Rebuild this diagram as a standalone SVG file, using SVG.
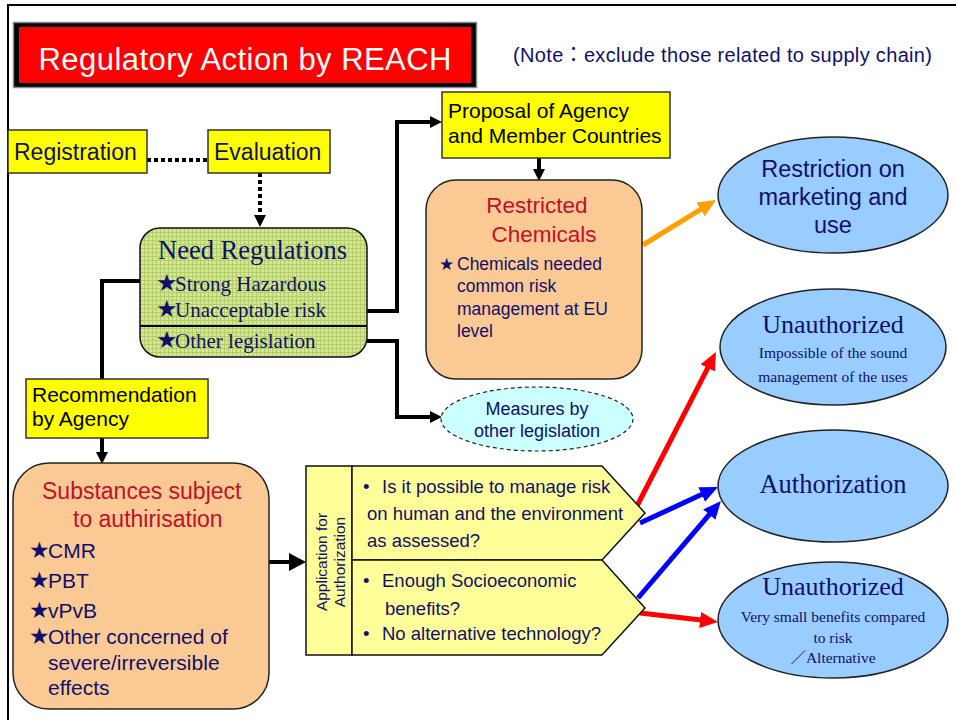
<svg xmlns="http://www.w3.org/2000/svg" width="956" height="720" viewBox="0 0 956 720">
<style>
.sans{font-family:"Liberation Sans","DejaVu Sans","Noto Sans CJK JP",sans-serif}
.serif{font-family:"Liberation Serif","DejaVu Serif","Noto Sans CJK JP",serif}
.navy{fill:#10106a}
.dark{fill:#000}
.redt{fill:#c0102a}
.ybox{fill:#ffff00;stroke:#333;stroke-width:1.5}
.obox{fill:#fbc993;stroke:#222;stroke-width:1.5}
.bell{fill:#99ccff;stroke:#222;stroke-width:1.5}
.pent{fill:#ffff99;stroke:#111;stroke-width:1.5}
.conn{fill:none;stroke:#000;stroke-width:4}
.dot{fill:none;stroke:#000;stroke-width:4;stroke-dasharray:4 3}
.star{font-family:"DejaVu Sans","Noto Sans CJK JP",sans-serif}
</style>
<defs>
<pattern id="grid" width="4" height="4" patternUnits="userSpaceOnUse">
<rect width="4" height="4" fill="#d2e890"/>
<path d="M0,0.5H4M0.5,0V4" stroke="#b4cc6c" stroke-width="1"/>
</pattern>
<marker id="ah" markerUnits="userSpaceOnUse" markerWidth="12" markerHeight="12" viewBox="0 0 12 12" refX="1" refY="6" orient="auto"><path d="M0,0L12,6L0,12z" fill="#000"/></marker>
<marker id="ahb" markerUnits="userSpaceOnUse" markerWidth="17" markerHeight="18" viewBox="0 0 17 18" refX="1" refY="9" orient="auto"><path d="M0,0L17,9L0,18z" fill="#000"/></marker>
<marker id="ahr" markerUnits="userSpaceOnUse" markerWidth="18" markerHeight="16" viewBox="0 0 18 16" refX="1" refY="8" orient="auto"><path d="M0,0L18,8L0,16z" fill="#ff0000"/></marker>
<marker id="ahbl" markerUnits="userSpaceOnUse" markerWidth="18" markerHeight="16" viewBox="0 0 18 16" refX="1" refY="8" orient="auto"><path d="M0,0L18,8L0,16z" fill="#0000ff"/></marker>
<marker id="aho" markerUnits="userSpaceOnUse" markerWidth="18" markerHeight="16" viewBox="0 0 18 16" refX="1" refY="8" orient="auto"><path d="M0,0L18,8L0,16z" fill="#ffa000"/></marker>
</defs>
<rect width="956" height="720" fill="#fff"/>
<path d="M7,5H956M8,5V720" stroke="#000" stroke-width="2" fill="none"/>

<g id="title">
<rect x="13.5" y="22.5" width="463" height="65" fill="#000" stroke="#888" stroke-width="1.5"/>
<rect x="19" y="27" width="452" height="56" fill="#ff0000"/>
<text x="245" y="70" class="sans" font-size="31" fill="#fff" text-anchor="middle" textLength="413">Regulatory Action by REACH</text>
</g>
<g id="note">
<text x="513" y="62" class="sans navy" font-size="20" textLength="419">(Note：exclude those related to supply chain)</text>
</g>

<g id="connectors">
<path class="dot" d="M147,160H208"/>
<path class="dot" d="M260,173V216" marker-end="url(#ah)"/>
<path class="conn" d="M367,311H397V122H431" marker-end="url(#ah)"/>
<path class="conn" d="M367,341H397V417H431" marker-end="url(#ah)"/>
<path class="conn" d="M140,281H102V453" marker-end="url(#ah)"/>
<path class="conn" stroke-width="3" d="M539,158V170" marker-end="url(#ah)"/>
<path class="conn" stroke-width="5" d="M269,562H290" marker-end="url(#ahb)"/>
<path fill="none" stroke="#ffa000" stroke-width="5" d="M643,245L701.5,208.9" marker-end="url(#aho)"/>
<path fill="none" stroke="#ff0000" stroke-width="5" d="M637,506L708.2,367.1" marker-end="url(#ahr)"/>
<path fill="none" stroke="#0000ff" stroke-width="5" d="M640,523L702.6,494.1" marker-end="url(#ahbl)"/>
<path fill="none" stroke="#0000ff" stroke-width="5" d="M638,598L709.9,513.9" marker-end="url(#ahbl)"/>
<path fill="none" stroke="#ff0000" stroke-width="5" d="M640,613L701.1,620.1" marker-end="url(#ahr)"/>
</g>

<g id="registration">
<rect class="ybox" x="8" y="130" width="139" height="43"/>
<text x="14" y="160" class="sans navy" font-size="23">Registration</text>
</g>
<g id="evaluation">
<rect class="ybox" x="208" y="130" width="122" height="43"/>
<text x="214" y="160" class="sans navy" font-size="23">Evaluation</text>
</g>

<g id="need-regulations">
<rect x="140" y="228" width="227" height="129" rx="20" fill="url(#grid)" stroke="#111" stroke-width="1.5"/>
<path d="M140,326H367" stroke="#000" stroke-width="2"/>
<text x="158" y="259" class="serif navy" font-size="26.5">Need Regulations</text>
<text y="291" class="navy" font-size="21"><tspan x="156" class="star" font-size="24">★</tspan><tspan x="175" class="serif">Strong Hazardous</tspan></text>
<text y="317" class="navy" font-size="21"><tspan x="156" class="star" font-size="24">★</tspan><tspan x="175" class="serif">Unacceptable risk</tspan></text>
<text y="348" class="navy" font-size="21"><tspan x="156" class="star" font-size="24">★</tspan><tspan x="175" class="serif">Other legislation</tspan></text>
</g>

<g id="recommendation">
<rect class="ybox" x="26" y="379" width="182" height="59"/>
<text x="32" y="402" class="sans dark" font-size="21">Recommendation</text>
<text x="32" y="426" class="sans dark" font-size="21">by Agency</text>
</g>

<g id="proposal">
<rect class="ybox" x="442" y="92" width="228" height="66"/>
<text x="448" y="118" class="sans dark" font-size="21">Proposal of Agency</text>
<text x="448" y="143" class="sans dark" font-size="21">and Member Countries</text>
</g>

<g id="restricted-chemicals">
<rect class="obox" x="426" y="180" width="216" height="199" rx="30"/>
<text x="537" y="213" class="sans redt" font-size="22.5" text-anchor="middle">Restricted</text>
<text x="544" y="242" class="sans redt" font-size="22.5" text-anchor="middle">Chemicals</text>
<text x="439" y="270" class="star navy" font-size="17">★</text>
<text x="457" y="270" class="sans navy" font-size="17.5">Chemicals needed</text>
<text x="457" y="292" class="sans navy" font-size="17.5">common risk</text>
<text x="457" y="315" class="sans navy" font-size="17.5">management at EU</text>
<text x="457" y="337" class="sans navy" font-size="17.5">level</text>
</g>

<g id="restriction-marketing">
<ellipse class="bell" cx="833" cy="195" rx="115" ry="58"/>
<text x="833" y="177" class="sans navy" font-size="23.5" text-anchor="middle">Restriction on</text>
<text x="833" y="205" class="sans navy" font-size="23.5" text-anchor="middle">marketing and</text>
<text x="833" y="233" class="sans navy" font-size="23.5" text-anchor="middle">use</text>
</g>

<g id="unauthorized-1">
<ellipse class="bell" cx="833" cy="347" rx="113" ry="58"/>
<text x="833" y="333" class="serif navy" font-size="26" text-anchor="middle">Unauthorized</text>
<text x="833" y="358" class="serif navy" font-size="15.5" text-anchor="middle">Impossible of the sound</text>
<text x="833" y="382" class="serif navy" font-size="15.5" text-anchor="middle">management of the uses</text>
</g>

<g id="measures">
<ellipse cx="537" cy="419" rx="96" ry="32" fill="#ccffff" stroke="#222" stroke-width="1.2" stroke-dasharray="4 3"/>
<text x="537" y="415" class="sans navy" font-size="18" text-anchor="middle">Measures by</text>
<text x="537" y="437" class="sans navy" font-size="18" text-anchor="middle">other legislation</text>
</g>

<g id="authorization">
<ellipse class="bell" cx="833" cy="486" rx="115" ry="56"/>
<text x="833" y="493" class="serif navy" font-size="26.5" text-anchor="middle">Authorization</text>
</g>

<g id="unauthorized-2">
<ellipse class="bell" cx="833" cy="620" rx="115" ry="58"/>
<text x="833" y="595" class="serif navy" font-size="26" text-anchor="middle">Unauthorized</text>
<text x="833" y="622" class="serif navy" font-size="15.5" text-anchor="middle">Very small benefits compared</text>
<text x="833" y="643" class="serif navy" font-size="15.5" text-anchor="middle">to risk</text>
<text x="833" y="663" class="serif navy" font-size="15.5" text-anchor="middle">／Alternative</text>
</g>

<g id="substances">
<rect class="obox" x="13" y="463" width="256" height="246" rx="36"/>
<text x="42" y="499" class="sans redt" font-size="23">Substances subject</text>
<text x="73" y="527" class="sans redt" font-size="23">to authirisation</text>
<text y="558" class="navy" font-size="21"><tspan x="29" class="star" font-size="23">★</tspan><tspan x="48" class="sans">CMR</tspan></text>
<text y="588" class="navy" font-size="21"><tspan x="29" class="star" font-size="23">★</tspan><tspan x="48" class="sans">PBT</tspan></text>
<text y="618" class="navy" font-size="21"><tspan x="29" class="star" font-size="23">★</tspan><tspan x="48" class="sans">vPvB</tspan></text>
<text y="644" class="navy" font-size="21"><tspan x="29" class="star" font-size="23">★</tspan><tspan x="48" class="sans">Other concerned of</tspan></text>
<text x="48" y="670" class="sans navy" font-size="21">severe/irreversible</text>
<text x="48" y="695" class="sans navy" font-size="21">effects</text>
</g>

<g id="application">
<rect class="pent" x="306" y="466" width="46" height="189"/>
<text transform="translate(327,562) rotate(-90)" class="sans navy" font-size="15.5" text-anchor="middle">Application for</text>
<text transform="translate(345,562) rotate(-90)" class="sans navy" font-size="15.5" text-anchor="middle">Authorization</text>
</g>

<g id="question-risk">
<polygon class="pent" points="352,466 602,466 645,513 602,560 352,560"/>
<text x="363" y="493" class="sans navy" font-size="18.5">•</text>
<text x="382" y="493" class="sans navy" font-size="18.5">Is it possible to manage risk</text>
<text x="367" y="520" class="sans navy" font-size="18.5">on human and the environment</text>
<text x="367" y="547" class="sans navy" font-size="18.5">as assessed?</text>
</g>

<g id="question-benefits">
<polygon class="pent" points="352,560 602,560 645,608 602,655 352,655"/>
<text x="363" y="587" class="sans navy" font-size="18.5">•</text>
<text x="382" y="587" class="sans navy" font-size="18.5">Enough Socioeconomic</text>
<text x="385" y="615" class="sans navy" font-size="18.5">benefits?</text>
<text x="363" y="640" class="sans navy" font-size="18.5">•</text>
<text x="382" y="640" class="sans navy" font-size="18.5">No alternative technology?</text>
</g>
</svg>
